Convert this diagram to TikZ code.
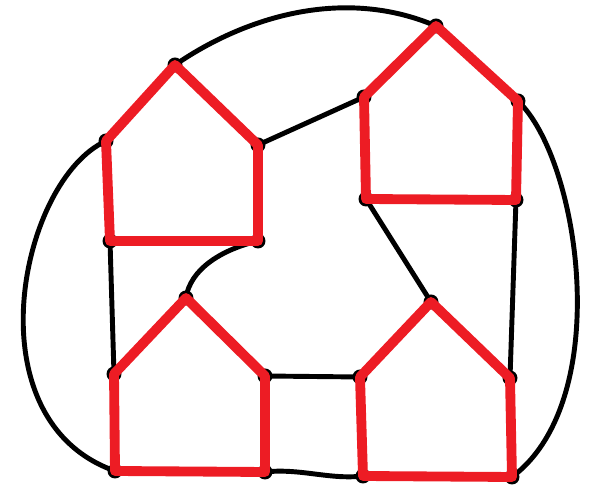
\documentclass[tikz,border=0pt]{standalone}
\usepackage{tikz}
\usetikzlibrary{calc}
\definecolor{myred}{RGB}{237,28,36}
\definecolor{mydark}{RGB}{0,0,0}
\tikzset{
  vtx/.style={circle, fill=mydark, inner sep=0pt, minimum size=0.3cm},
  link/.style={color=mydark, line width=2.8pt, line cap=round},
  house/.style={color=myred, line width=5.6pt, line cap=round, line join=round}
}

\begin{document}
\begin{tikzpicture}[x=0.02cm, y=-0.02cm]
  \useasboundingbox (0,0) rectangle (596,492);
  % Top-left house
  \node[vtx] (tl-top) at (175,65) {};
  \node[vtx] (tl-ul) at (106,141) {};
  \node[vtx] (tl-ur) at (258,145) {};
  \node[vtx] (tl-lr) at (258,241) {};
  \node[vtx] (tl-ll) at (110,241) {};
  % Top-right house
  \node[vtx] (tr-top) at (436,26) {};
  \node[vtx] (tr-ul) at (364,97) {};
  \node[vtx] (tr-ur) at (518,101) {};
  \node[vtx] (tr-lr) at (516,200) {};
  \node[vtx] (tr-ll) at (366,199) {};
  % Bottom-left house
  \node[vtx] (bl-top) at (186,298) {};
  \node[vtx] (bl-ul) at (114,374) {};
  \node[vtx] (bl-ur) at (265,376) {};
  \node[vtx] (bl-lr) at (265,472) {};
  \node[vtx] (bl-ll) at (115,471) {};
  % Bottom-right house
  \node[vtx] (br-top) at (431,302) {};
  \node[vtx] (br-ul) at (360,377) {};
  \node[vtx] (br-ur) at (510,378) {};
  \node[vtx] (br-lr) at (512,477) {};
  \node[vtx] (br-ll) at (363,476) {};
  % Outer arcs
  \draw[link] (tl-top.center) .. controls (240,20) and (340,-15) .. (tr-top.center);
  \draw[link] (tr-ur.center) .. controls (580,160) and (615,400) .. (br-lr.center);
  \draw[link] (tl-ul.center) .. controls (20,180) and (-30,420) .. (bl-ll.center);
  % Inner links
  \draw[link] (tl-ur.center) -- (tr-ul.center);
  \draw[link] (tl-ll.center) -- (bl-ul.center);
  \draw[link] (tl-lr.center) .. controls (220,250) and (190,270) .. (bl-top.center);
  \draw[link] (tr-ll.center) -- (br-top.center);
  \draw[link] (tr-lr.center) -- (br-ur.center);
  \draw[link] (bl-ur.center) -- (br-ul.center);
  \draw[link] (bl-lr.center) .. controls (300,468) and (330,480) .. (br-ll.center);
  % Red houses
  \foreach \h in {tl,tr,bl,br}
    \draw[house] (\h-top.center) -- (\h-ur.center) -- (\h-lr.center)
      -- (\h-ll.center) -- (\h-ul.center) -- cycle;
\end{tikzpicture}
\end{document}
